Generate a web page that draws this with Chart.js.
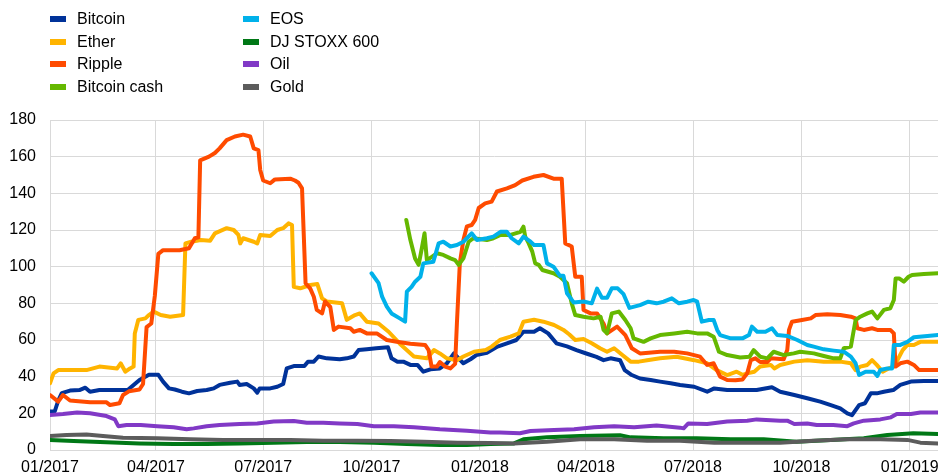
<!DOCTYPE html>
<html>
<head>
<meta charset="utf-8">
<script src="https://cdn.jsdelivr.net/npm/chart.js@4.4.1/dist/chart.umd.min.js"></script>
<style>
  html, body { margin: 0; padding: 0; background: #fff; }
  #wrap { position: relative; width: 938px; height: 475px; }
  #legend {
    position: absolute; left: 50px; top: 8px;
    display: grid; grid-template-columns: 193px auto;
    grid-template-rows: repeat(4, 22.6px); grid-auto-flow: column;
    font: 16px "Liberation Sans", Arial, sans-serif; color: #000;
  }
  #legend .item { display: flex; align-items: center; white-space: nowrap; }
  #legend .swatch { width: 16px; height: 6px; margin-right: 11px; }
</style>
</head>
<body>
<div id="wrap">
  <canvas id="chart" width="938" height="475"></canvas>
  <div id="legend"></div>
</div>
<script>
// x values are days since 1 Jan 2017
const quarterDays = [0, 90, 181, 273, 365, 455, 546, 638, 730];
const quarterLabels = ['01/2017', '04/2017', '07/2017', '10/2017', '01/2018', '04/2018', '07/2018', '10/2018', '01/2019'];

const seriesNames = ['Bitcoin', 'Ether', 'Ripple', 'Bitcoin cash', 'EOS', 'DJ STOXX 600', 'Oil', 'Gold'];
const seriesColors = ['#003299', '#ffb400', '#ff4b00', '#65b800', '#00b1ea', '#007816', '#8139c6', '#5c5c5c'];

const bitcoin = [[0,21],[4,21],[7,27],[10,31],[17,32.4],[25,32.7],[30,34],[34,31.8],[42,32.7],[66,32.7],[71,35.5],[76,38.2],[84,41],[92,41],[96,37.3],[101,33.6],[106,33],[112,31.8],[118,30.9],[125,32.2],[133,32.7],[139,33.6],[144,35.5],[153,36.7],[159,37.3],[161,35.5],[167,36],[173,33.6],[176,31.3],[178,33.6],[187,33.6],[193,34.5],[198,36],[201,44.5],[207,45.8],[216,45.8],[219,48.2],[224,48.2],[228,51],[235,50],[246,49.5],[252,50],[258,51],[262,54.5],[269,55],[277,55.5],[287,56],[290,50],[295,48.2],[300,48.2],[306,46.4],[312,46.4],[317,42.7],[323,44],[331,44.5],[337,47.3],[343,52.7],[347,50],[351,47.3],[357,49.5],[362,51.8],[371,53],[380,56.4],[388,58.2],[396,60],[402,64.5],[411,64.5],[416,66.4],[423,63.6],[430,58.2],[439,56.5],[447,54.5],[456,52.5],[464,50.8],[470,49],[476,50],[484,49],[488,43.6],[494,40.9],[501,39],[510,38.2],[518,37.3],[527,36.4],[535,35.5],[547,34.5],[558,31.8],[564,33.6],[575,32.7],[600,32.7],[613,34.2],[620,31.8],[632,30],[643,28.2],[654,26.4],[663,24.5],[671,22.7],[677,20],[681,19],[684,21.8],[687,24.5],[692,25.5],[697,30.9],[702,30.9],[708,31.8],[716,32.7],[722,35.5],[731,37.3],[742,37.6],[754,37.6]];

const ether = [[0,36.4],[3,41.8],[7,43.6],[31,43.6],[42,45.5],[57,44.5],[60,47.3],[64,42.7],[68,44.5],[71,45.5],[72,63.6],[75,71],[81,71.8],[84,73.6],[88,75.5],[94,73.6],[102,72.7],[113,73.6],[115,112.7],[120,113.6],[128,114.5],[136,114.2],[140,118.2],[150,121],[156,120],[160,117.3],[161.5,112.7],[164,115.5],[173,113.6],[176,112.7],[178.5,117.3],[187,116.7],[193,120],[198,121],[202.5,123.6],[205.5,122.7],[207,89],[212.5,88.2],[221,90],[227,90.5],[231,82.7],[235,81],[248,80],[252,71],[259,73.6],[263,74.5],[269,70],[279,69],[287.5,64.5],[297,58],[309,51],[320,50],[326,54.5],[331,52.7],[337,50],[345.5,49],[351,51],[360,53.6],[370,54.5],[375,56.4],[382,60],[391,61.8],[398,63.6],[402,70],[411,71],[419,70],[428,68.2],[436,65.5],[441,63],[446,60],[453,60.5],[460,58.2],[467,55.5],[473,53.6],[479,55.5],[486,51.8],[493,48.2],[500,48.2],[507,49],[518,50],[532,50.9],[547,49],[558,47.3],[566,43.6],[575,40.9],[583,42.7],[588,41],[592,41.8],[598,42.7],[603,45.5],[612,46.4],[615,44.5],[620,46.4],[632,48.2],[643,49],[657,48.2],[671,48.2],[680,47.3],[684,43.6],[688,45.5],[694,46.4],[698,49],[702,46.4],[707,42.7],[712,44.5],[716.5,45.5],[719.5,49],[724,54.5],[728,57.3],[733.5,57.3],[739,59],[754,59]];

const ripple = [[0,30],[7,26.4],[11,30],[17,27],[34,26],[48,26],[51,24.5],[59,25.5],[62,30],[67,32],[76,33],[79,36],[82,67],[86,69],[89,84],[92,107],[96,109],[110,109],[118,110],[123,115.5],[126,116],[127.5,158],[135,160],[140,162],[144,164.5],[150,169],[157,171],[164,172],[170,171],[173,164.5],[177,163.6],[178.5,152.7],[181,147],[187,145.5],[191,147.6],[204,148],[208,147],[211,145.8],[214,142.7],[217,91],[221,88],[224,83.6],[226.5,76.4],[231,74.5],[233.5,81],[238,78],[241,65.5],[245,67.3],[255,66.4],[258,64.5],[263,65.5],[269,63.6],[277.5,63.6],[286,60],[294.5,59],[306,58],[318.5,57.3],[321.5,54.5],[324,45.5],[328.5,45.5],[331,48],[335.5,45.5],[340,44.5],[344,47],[345.5,69],[348,102],[351,114.5],[354,122],[358,122.7],[361,125.5],[364,132],[369.5,134.5],[375,135.5],[379.5,141],[388,142.7],[395,144.5],[401,147],[410.5,149],[419,150],[427.5,148],[434.5,148],[437.5,112.7],[443,111],[446,94.5],[451.5,94.5],[453,76.4],[459,74.5],[464.5,74.5],[470,69],[473,63.6],[481.5,67.3],[488.5,62.7],[494,55.5],[501,52.7],[518,53.6],[530,53.6],[541,52.7],[552,50.9],[558,46.4],[563.5,47.3],[569,40],[575,38.2],[582,38],[588,38.5],[592,41.8],[595,49],[599,50],[603,48],[609,48],[612,50],[623,49.5],[626,54.5],[627.5,65.5],[630,70],[638.5,70.9],[646,71.8],[650,73.6],[660,74],[671,73.6],[680,72.7],[684,71.8],[685.5,66.4],[691,65.5],[698,66.4],[702.5,65.5],[713.5,65.5],[716.5,63.6],[718,45.5],[722,47.3],[728,48.2],[733.5,46.4],[738,43.6],[745,43.6],[754,43.6]];

const bitcoinCash = [[302.5,125.5],[306,114.5],[310,104.5],[313,101],[316,111],[318,118.2],[320,103.6],[324.5,105.5],[328.5,107.3],[334,106.4],[340,104.5],[344,103.6],[347,101],[351,104.5],[355.5,113.6],[359.5,115.5],[371,114.5],[376.5,115.5],[382.5,117.3],[391,117.3],[399.5,119],[402,121.8],[403.5,116.4],[406.5,112.7],[409.5,108.2],[412,101.8],[415,101],[418,98.2],[427.5,96.4],[433,94.5],[439,91],[443,80],[446,73.6],[453,72.7],[461.5,71.8],[467.5,72.7],[470,65.5],[473,63.6],[477,74.5],[483,75.5],[488.5,70.9],[493,66.4],[495.5,60.9],[504,59],[510,60.9],[518,62.7],[530,63.6],[541,64.5],[549.5,63.6],[558,63.6],[563.5,61.8],[568,53.6],[575,51.8],[586,50.5],[594,50.9],[597.5,54.5],[603,50.9],[609,50],[614.5,53.6],[623,51.8],[631.5,52.7],[637,53.6],[648.5,52.7],[657,51.3],[665.5,50],[671,50],[674,55.5],[680,56.4],[684,70.9],[688,72.7],[694,74.5],[698,75.5],[702.5,71.8],[708,76.4],[713.5,77.3],[716.5,81.8],[718,93.6],[721,93.6],[725,91.8],[729,94.5],[732,95.5],[742,96],[754,96.4]];

const eos = [[273,96.4],[279,91],[282,83.6],[286,78.2],[290,74.5],[297,71.8],[301.5,70],[303,86.4],[307,89],[310,91.8],[314.5,94.5],[317,101.8],[325.5,102.7],[330,112.7],[334,113.6],[340,111],[345.5,111.8],[351,113.6],[358,118.2],[362.5,114.5],[371,115.5],[376.5,116.4],[382.5,119],[388,119],[392,115.5],[398,112.7],[402,116.4],[408,113.6],[411,111.8],[419,111.8],[422,101.8],[427.5,100],[433,95],[436,95],[439,85.5],[444.6,80.5],[453,81],[460,80],[464.5,88],[468.7,83],[473,83],[477,88.2],[482,88.2],[487,85],[492,77.5],[501,79],[508,80.9],[515,80],[521,80.9],[528,82.7],[534,80],[541,80.9],[546.5,81.8],[549.5,80.9],[553.5,70],[559.5,70.9],[563.5,70.9],[566.5,65.5],[569,62.7],[578,60.9],[588,60.9],[593.5,62.7],[596,67.3],[600.5,64.5],[607.5,64.5],[613,66.4],[617.5,62.7],[626,62.2],[634.5,60],[643,57.3],[648.5,56.4],[657,54.9],[665.5,54.2],[674,53.6],[680,50.9],[684,47.3],[687,40.9],[692.5,42.7],[699.5,42.7],[702.5,40.4],[705,43.6],[711,44.5],[715,44.5],[716.5,57.3],[722,57.3],[728,59],[733.5,61.5],[745,62.2],[754,62.7]];

const stoxx = [[0,5.5],[20,4.9],[48,4.2],[76,3.6],[105,3.3],[133,3.3],[161,3.6],[190,4],[218,4.4],[246,4.4],[275,4],[303,3.3],[331,2.7],[354,2.7],[374,3.3],[394,3.6],[402,5.8],[422,6.9],[450,7.6],[484,8],[493,6.9],[521,6.4],[549,6.4],[578,5.8],[606,5.8],[634,4.5],[663,5.5],[691,6.4],[711,8.2],[733,9.1],[754,8.7]];

const oil = [[0,19.1],[11,19.6],[23,20.4],[34,20],[48,18.5],[55,16.7],[58,13],[65,13.6],[77,13.6],[91,13],[105,12.4],[116,11.3],[122,11.8],[133,13],[144,13.6],[161,14.2],[176,14.5],[190,15.5],[207,15.8],[218,14.9],[232,14.9],[246,14.5],[261,14.2],[275,13],[292,13],[309,12.4],[331,11.3],[354,10.5],[374,9.6],[382,9.5],[399,9.1],[408,10.4],[428,10.9],[445,11.3],[462,12.4],[479,13],[496,12.4],[515,13.3],[535,12.2],[538,11.8],[542,14.5],[558,14.2],[575,15.5],[592,16],[600,16.7],[620,16],[626,16],[632,14.2],[643,14.5],[651,13.6],[665,13.6],[677,13],[682.5,14.5],[691,16],[705,16.7],[714,17.8],[719,19.6],[731,19.6],[739,20.4],[754,20.4]];

const gold = [[0,7.6],[14,8.2],[31,8.5],[45,7.6],[62,6.7],[91,6.4],[119,5.8],[147,5.5],[204,5.5],[232,5.1],[261,5.1],[289,4.9],[317,4.5],[346,4],[374,3.8],[394,3.6],[422,4.5],[450,5.8],[479,5.8],[507,5.1],[535,5.1],[564,4],[620,4],[648,5.1],[677,5.8],[705,5.8],[728,5.5],[739,4],[754,3.6]];

const seriesData = [bitcoin, ether, ripple, bitcoinCash, eos, stoxx, oil, gold];

const gridColor = '#d9d9d9';
Chart.defaults.font.family = "'Liberation Sans', Arial, sans-serif";
Chart.defaults.font.size = 16;
Chart.defaults.color = '#000';

const chart = new Chart('chart', {
    type: 'line',
    data: {
        datasets: seriesNames.map((name, i) => ({
            label: name,
            data: seriesData[i].map(p => ({ x: p[0], y: p[1] })),
            borderColor: seriesColors[i],
            backgroundColor: seriesColors[i],
            borderWidth: 4,
            borderJoinStyle: 'round',
            borderCapStyle: 'round',
            pointRadius: 0,
            tension: 0,
            fill: false,
            order: seriesNames.length - i // later series on top
        }))
    },
    options: {
        responsive: false,
        animation: false,
        layout: { padding: { top: 120, left: 0, right: 0, bottom: 0 } },
        plugins: { legend: { display: false }, tooltip: { enabled: false } },
        scales: {
            x: {
                type: 'linear',
                min: 0,
                max: 754,
                afterBuildTicks: s => { s.ticks = quarterDays.map(v => ({ value: v })); },
                afterFit: s => { s.height = 25; s.paddingLeft = 0; s.paddingRight = 0; },
                ticks: {
                    autoSkip: false,
                    maxRotation: 0,
                    padding: 8,
                    callback: (v, i) => quarterLabels[i]
                },
                grid: { color: gridColor, drawTicks: false },
                border: { color: gridColor }
            },
            y: {
                min: 0,
                max: 180,
                afterFit: s => { s.width = 50; s.paddingTop = 0; s.paddingBottom = 0; },
                ticks: { stepSize: 20, padding: 14 },
                grid: { color: gridColor, drawTicks: false },
                border: { color: gridColor }
            }
        }
    }
});

// Two-column legend, filled column by column
const legendEl = document.getElementById('legend');
chart.data.datasets.forEach(ds => {
    const item = document.createElement('div');
    item.className = 'item';
    const sw = document.createElement('span');
    sw.className = 'swatch';
    sw.style.background = ds.borderColor;
    item.appendChild(sw);
    item.appendChild(document.createTextNode(ds.label));
    legendEl.appendChild(item);
});
</script>
</body>
</html>
